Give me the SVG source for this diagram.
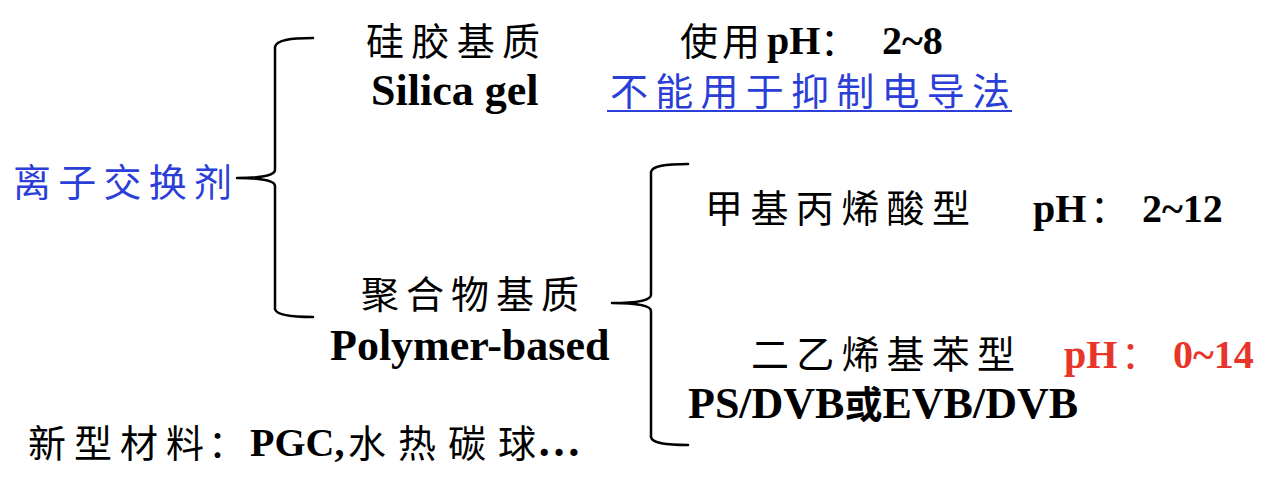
<svg xmlns="http://www.w3.org/2000/svg" width="1283" height="495" viewBox="0 0 1283 495">
<style>
.cjk{font-family:"Noto Sans CJK SC","Noto Sans",sans-serif;font-size:38px;fill:#000}
.lat{font-family:"Liberation Serif","Times New Roman",serif;font-weight:bold;font-size:44px;fill:#000}
.ph{font-size:40px}
.blue{fill:#2b3fd8}
.red{fill:#e8352a}
.brace{fill:none;stroke:#000;stroke-width:2.5;stroke-linejoin:round;stroke-linecap:round}
</style>
<rect width="1283" height="495" fill="#fff"/>
<g id="connectors">
<path class="brace" d="M313,38 C290,38 276,40 275,47 L275,170 C275,175 262,178 237,178 C262,178 275,181 275,186 L275,309 C276,315 290,317 313,317"/>
<path class="brace" d="M688,164 C665,164 652,166 651,172 L651,295 C651,300 638,303 612,303 C638,303 651,306 651,311 L651,437 C652,443 665,445 688,445"/>
</g>
<g id="root">
<text class="cjk blue" x="13" y="196" textLength="219" lengthAdjust="spacing">离子交换剂</text>
</g>
<g id="silica">
<text class="cjk" x="366" y="55" textLength="174" lengthAdjust="spacing">硅胶基质</text>
<text class="lat" x="371" y="105">Silica gel</text>
<text class="cjk" x="680" y="55" textLength="80" lengthAdjust="spacing">使用</text>
<text class="lat ph" x="767" y="54">pH</text>
<text class="cjk" x="820" y="55">：</text>
<text class="lat ph" x="882" y="54">2~8</text>
<text class="cjk blue" x="610" y="105" textLength="400" lengthAdjust="spacing">不能用于抑制电导法</text>
<line x1="607" y1="111" x2="1012" y2="111" stroke="#2b3fd8" stroke-width="2"/>
</g>
<g id="polymer">
<text class="cjk" x="361" y="308" textLength="218" lengthAdjust="spacing">聚合物基质</text>
<text class="lat" x="330" y="360">Polymer-based</text>
</g>
<g id="methacrylate">
<text class="cjk" x="705" y="222" textLength="265" lengthAdjust="spacing">甲基丙烯酸型</text>
<text class="lat ph" x="1033" y="222">pH</text>
<text class="cjk" x="1090" y="222">：</text>
<text class="lat ph" x="1142" y="222">2~12</text>
</g>
<g id="dvb">
<text class="cjk" x="751" y="368" textLength="264" lengthAdjust="spacing">二乙烯基苯型</text>
<text class="lat ph red" x="1064" y="368">pH</text>
<text class="cjk red" x="1121" y="368">：</text>
<text class="lat ph red" x="1173" y="368">0~14</text>
<text class="lat" x="688" y="418">PS/DVB<tspan class="cjk">或</tspan>EVB/DVB</text>
</g>
<g id="newmaterials">
<text class="cjk" x="28" y="457" textLength="176" lengthAdjust="spacing">新型材料</text>
<text class="cjk" x="208" y="457">：</text>
<text class="lat ph" x="250" y="456">PGC,</text>
<text class="cjk" x="348" y="457" textLength="188" lengthAdjust="spacing">水热碳球</text>
<text class="lat" x="537" y="456">…</text>
</g>
</svg>
